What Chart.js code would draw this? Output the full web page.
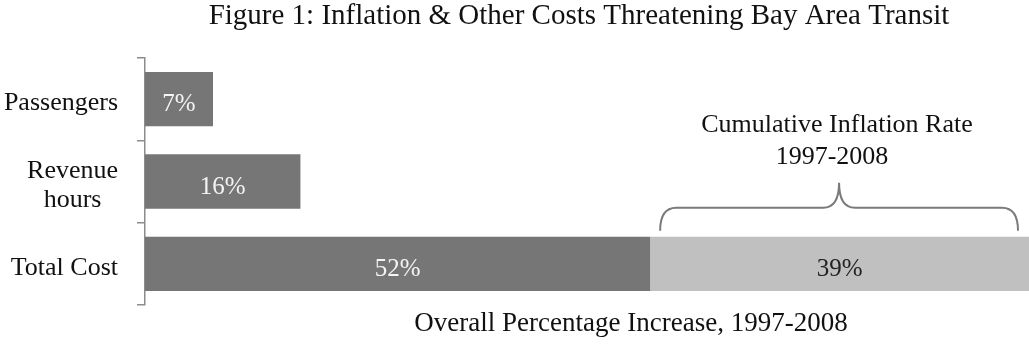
<!DOCTYPE html>
<html>
<head>
<meta charset="utf-8">
<script src="https://cdn.jsdelivr.net/npm/chart.js@4/dist/chart.umd.min.js"></script>
<style>
  html, body { margin: 0; padding: 0; background: #fff; }
  #wrap { width: 1029px; height: 345px; position: relative; }
</style>
</head>
<body>
<div id="wrap"><canvas id="chart"></canvas></div>
<script>
const categories = [['Passengers'], ['Revenue', 'hours'], ['Total Cost']];
const baseIncrease = [7, 16, 52];
const inflationPart = [null, null, 39];
const chartTitle = 'Figure 1: Inflation & Other Costs Threatening Bay Area Transit';
const xTitle = 'Overall Percentage Increase, 1997-2008';
const bracketNote = ['Cumulative Inflation Rate', '1997-2008'];

const FONT = '"Liberation Serif", "Times New Roman", serif';

// draws title, y labels, bar values, bracket and the x caption
const decor = {
  id: 'decor',
  afterDatasetsDraw(chart) {
    const ctx = chart.ctx;
    const x = chart.scales.x;
    const y = chart.scales.y;
    ctx.save();
    ctx.fillStyle = '#111';
    ctx.textBaseline = 'alphabetic';
    ctx.textAlign = 'center';

    ctx.font = '29px ' + FONT;
    ctx.fillText(chartTitle, 579, 24);

    // category labels: block right aligned, lines centered in the block
    ctx.font = '26px ' + FONT;
    categories.forEach((lines, i) => {
      const cy = y.getPixelForValue(i);
      const w = Math.max(...lines.map(l => ctx.measureText(l).width));
      const cx = 118 - w / 2;
      const lh = 29;
      lines.forEach((l, j) => {
        ctx.fillText(l, cx, cy + 11 + (j - (lines.length - 1) / 2) * lh);
      });
    });

    // value labels
    ctx.font = '25px ' + FONT;
    chart.data.datasets.forEach((ds, di) => {
      chart.getDatasetMeta(di).data.forEach((bar, i) => {
        const v = ds.data[i];
        if (v == null) return;
        const mid = (bar.x + bar.base) / 2;
        ctx.fillStyle = di === 0 ? '#f4f4f4' : '#222';
        ctx.fillText(v + '%', mid, bar.y + 12);
      });
    });

    // bracket over inflation segment
    const bar = chart.getDatasetMeta(1).data[2];
    const top = bar.y - bar.height / 2;
    const l = x.getPixelForValue(baseIncrease[2]) + 10;
    const r = x.getPixelForValue(baseIncrease[2] + inflationPart[2]) - 11;
    const m = (l + r) / 2;
    const yb = top - 6, yl = top - 29, yp = top - 54, rad = 16;
    ctx.strokeStyle = '#7a7a7a';
    ctx.lineWidth = 2;
    ctx.beginPath();
    ctx.moveTo(l, yb);
    ctx.quadraticCurveTo(l, yl, l + rad, yl);
    ctx.lineTo(m - rad, yl);
    ctx.quadraticCurveTo(m, yl, m, yp);
    ctx.quadraticCurveTo(m, yl, m + rad, yl);
    ctx.lineTo(r - rad, yl);
    ctx.quadraticCurveTo(r, yl, r, yb);
    ctx.stroke();

    ctx.fillStyle = '#111';
    ctx.font = '26px ' + FONT;
    ctx.fillText(bracketNote[0], 837, 132);
    ctx.fillText(bracketNote[1], 832, 164);

    ctx.font = '27px ' + FONT;
    ctx.fillText(xTitle, 631, 331);
    ctx.restore();
  }
};

new Chart(document.getElementById('chart'), {
  type: 'bar',
  data: {
    labels: categories,
    datasets: [
      { data: baseIncrease, backgroundColor: '#767676' },
      { data: inflationPart, backgroundColor: '#c0c0c0' }
    ]
  },
  options: {
    indexAxis: 'y',
    responsive: true,
    maintainAspectRatio: false,
    animation: false,
    categoryPercentage: 1,
    barPercentage: 0.66,
    layout: { padding: { top: 58, bottom: 40, left: 0, right: 0 } },
    plugins: { legend: { display: false }, tooltip: { enabled: false }, title: { display: false } },
    scales: {
      x: { stacked: true, min: 0, max: 91, display: false },
      y: {
        stacked: true,
        ticks: { display: false },
        grid: { offset: true, drawOnChartArea: false, tickLength: 8, color: '#8c8c8c', lineWidth: 1.5 },
        border: { color: '#8c8c8c', width: 1.5 },
        afterFit(scale) { scale.width = 145; }
      }
    }
  },
  plugins: [decor]
});
</script>
</body>
</html>
